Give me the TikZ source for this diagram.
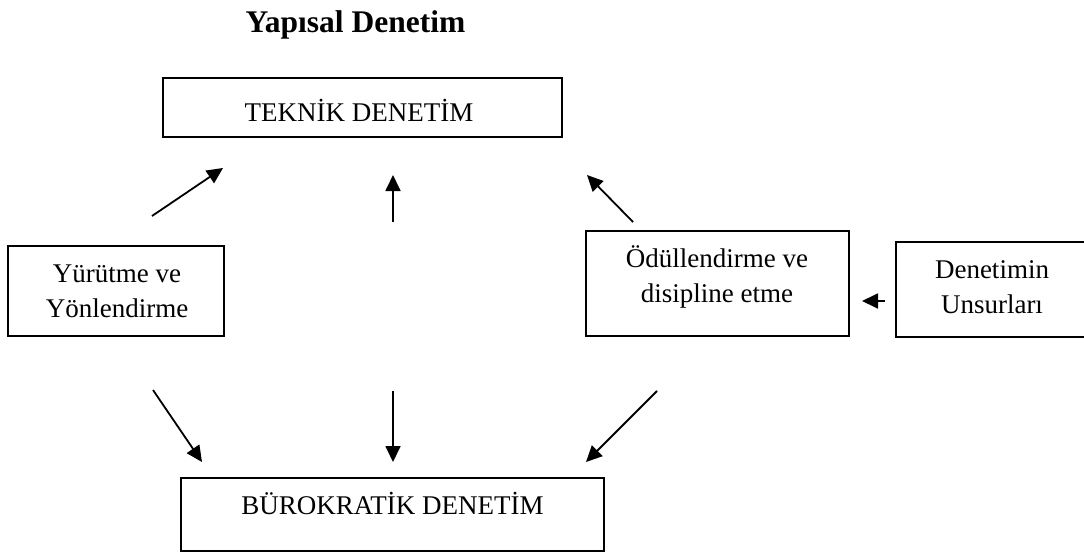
\documentclass[tikz,border=0pt]{standalone}
\usepackage{fontspec}
\setmainfont{Liberation Serif}
\usetikzlibrary{arrows.meta}
\tikzset{
  box/.style={draw, line width=1.8pt, anchor=north west, inner sep=0pt, outer sep=0pt},
  txt/.style={anchor=base, inner sep=0pt, font=\fontsize{27}{32}\selectfont},
  ttl/.style={anchor=base, inner sep=0pt, font=\fontsize{31.5}{36}\selectfont\bfseries},
  arr/.style={line width=1.8pt, -{Triangle[length=16pt,width=15pt]}}
}
\begin{document}
\begin{tikzpicture}[x=1pt,y=-1pt]
\useasboundingbox (0,0) rectangle (1084,555);
\clip (0,0) rectangle (1084,555);
\fill[white] (0,0) rectangle (1084,555);
% title
\node[ttl] (title) at (355.5,32) {Yapısal Denetim};
% boxes
\node[box, minimum width=399pt, minimum height=59pt] (tek) at (163,78) {};
\node[txt] (tekt) at (359,121) {TEKNİK DENETİM};
\node[box, minimum width=216pt, minimum height=90pt] (yur) at (8,246) {};
\node[txt] (yur1) at (117,282) {Yürütme ve};
\node[txt] (yur2) at (117,317) {Yönlendirme};
\node[box, minimum width=263pt, minimum height=105pt] (odul) at (586,231) {};
\node[txt] (odul1) at (717,267) {Ödüllendirme ve};
\node[txt] (odul2) at (717,302) {disipline etme};
\node[box, minimum width=210pt, minimum height=95pt] (uns) at (896,242) {};
\node[txt] (uns1) at (992,278) {Denetimin};
\node[txt] (uns2) at (992,313) {Unsurları};
\node[box, minimum width=423pt, minimum height=73pt] (bur) at (181,478) {};
\node[txt] (burt) at (392.5,514) {BÜROKRATİK DENETİM};
% arrow end points
\coordinate (a1s) at (152,216); \coordinate (a1e) at (223,168);
\coordinate (a2s) at (393,222); \coordinate (a2e) at (393,175);
\coordinate (a3s) at (633,222); \coordinate (a3e) at (587,175);
\coordinate (a4s) at (885,301); \coordinate (a4e) at (862,301);
\coordinate (a5s) at (153,390); \coordinate (a5e) at (202,462);
\coordinate (a6s) at (393,391); \coordinate (a6e) at (393,462);
\coordinate (a7s) at (657,391); \coordinate (a7e) at (586,462);
\draw[arr] (a1s) -- (a1e);
\draw[arr] (a2s) -- (a2e);
\draw[arr] (a3s) -- (a3e);
\draw[arr] (a4s) -- (a4e);
\draw[arr] (a5s) -- (a5e);
\draw[arr] (a6s) -- (a6e);
\draw[arr] (a7s) -- (a7e);
\end{tikzpicture}
\end{document}
